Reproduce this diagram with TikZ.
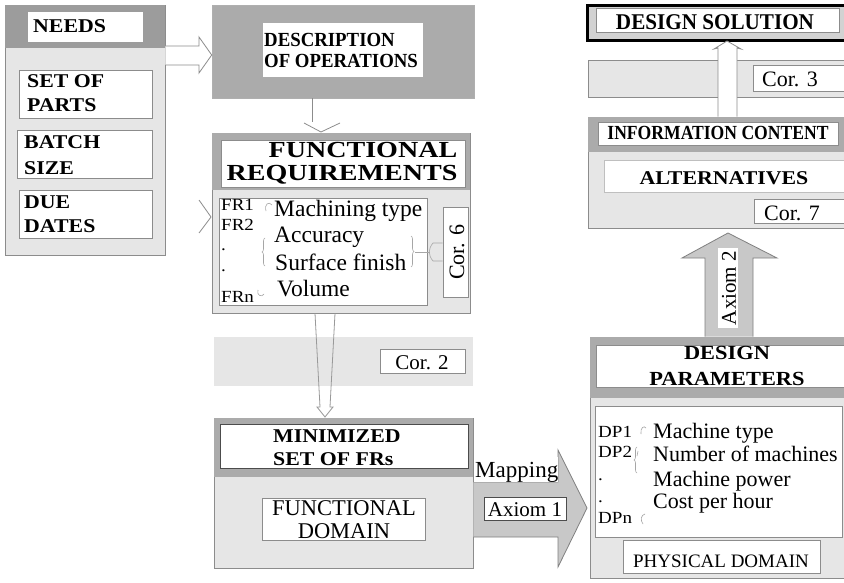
\documentclass[tikz,border=0pt]{standalone}
\usepackage{fontspec}
\setmainfont{Liberation Serif}
\newfontfamily\fnA[FakeStretch=1.12]{Liberation Serif}
\newfontfamily\fnB[FakeStretch=0.94]{Liberation Serif}
\newfontfamily\fnC[FakeStretch=1.22]{Liberation Serif}
\newfontfamily\fnD[FakeStretch=0.88]{Liberation Serif}
\newfontfamily\fnE[FakeStretch=1.12]{Liberation Serif}
\usetikzlibrary{fit,decorations.pathreplacing}
\definecolor{hdr}{HTML}{ABABAB}
\definecolor{hdrdark}{HTML}{9C9C9C}
\definecolor{lite}{HTML}{E6E6E6}
\definecolor{edge}{HTML}{8C8C8C}
\definecolor{arrfill}{HTML}{C8C8C8}
\newcommand\fsz[2]{\fontsize{#1pt}{#2pt}\selectfont}
\tikzset{
  panel/.style={inner sep=0pt, fill=lite, draw=edge, line width=0.8pt},
  band/.style={inner sep=0pt, fill=hdr},
  wbox/.style={inner sep=0pt, fill=white, draw=edge, line width=0.8pt},
  txt/.style={inner sep=0pt, anchor=base west},
  ctxt/.style={inner sep=0pt, anchor=base},
  bA/.style={font=\fnA\bfseries\fsz{19.5}{22}},
  lab/.style={font=\fnA\fsz{17}{19}},
  hollow/.style={draw=edge, line width=0.8pt, line join=miter},
  bigarrow/.style={fill=arrfill, draw=gray, line width=0.8pt},
  curl/.style={draw=gray!70, line width=0.6pt},
}
\begin{document}
\begin{tikzpicture}[x=1pt,y=-1pt]
\path[use as bounding box, fill=white] (0,0) rectangle (844,583);
\clip (0,0) rectangle (844,583);

% ---------- NEEDS ----------
\node[panel, fit={(5,5)(165,255)}] (needs) {};
\node[band, fill=hdrdark, fit={(5.4,5.4)(164.6,48)}] (needshdr) {};
\node[wbox, draw=none, fit={(28,12)(143,42)}] (needsbox) {};
\node[txt,bA] (needst) at (33,33) {NEEDS};
\node[wbox, fit={(19,70)(152,118)}] (parts) {};
\node[txt,bA] (parts1) at (27,88) {SET OF};
\node[txt,bA] (parts2) at (27,112) {PARTS};
\node[wbox, fit={(17,130)(152,178)}] (batch) {};
\node[txt,bA] (batch1) at (24,149) {BATCH};
\node[txt,bA] (batch2) at (24,175) {SIZE};
\node[wbox, fit={(19,190)(152,238)}] (due) {};
\node[txt,bA] (due1) at (24,208) {DUE};
\node[txt,bA] (due2) at (24,233) {DATES};

% ---------- DESCRIPTION ----------
\node[band, draw=edge!70, line width=0.6pt, fit={(212,5)(474,98)}] (desc) {};
\node[wbox, draw=none, fit={(263,23)(423,77)}] (descbox) {};
\node[txt, font=\fnB\bfseries\fsz{20}{22}] (desc1) at (264,47) {DESCRIPTION};
\node[txt, font=\fnB\bfseries\fsz{20}{22}] (desc2) at (264,68) {OF OPERATIONS};

% ---------- FUNCTIONAL REQUIREMENTS ----------
\node[panel, fit={(212,133)(470,313)}] (fr) {};
\node[band, fit={(212.4,133.4)(469.6,190)}] (frhdr) {};
\node[wbox, fit={(221,140)(465,187)}] (frbox) {};
\node[ctxt, font=\fnC\bfseries\fsz{23}{25}] (frt1) at (363,158) {FUNCTIONAL};
\node[ctxt, font=\fnC\bfseries\fsz{23}{25}] (frt2) at (342,181) {REQUIREMENTS};
\node[wbox, fit={(219,198)(427,305)}] (frlist) {};
\node[wbox, fit={(443,207)(468,297)}] (cor6) {};
\node[rotate=90, inner sep=0pt, font=\fsz{22}{24}] (cor6t) at (457,252) {Cor. 6};
\node[txt,lab] (fra) at (221,211) {FR1};
\node[txt,lab] (frb) at (221,230) {FR2};
\node[txt,lab] (frc) at (221,250) {.};
\node[txt,lab] (frd) at (221,271) {.};
\node[txt,lab] (fre) at (221,302) {FRn};
\node[txt,font=\fsz{23.5}{25}] (m1) at (274,216) {Machining type};
\node[txt,font=\fsz{23.5}{25}] (m2) at (274,243) {Accuracy};
\node[txt,font=\fsz{23.5}{25}] (m3) at (275,270) {Surface finish};
\node[txt,font=\fsz{23.5}{25}] (m4) at (277,296) {Volume};
\draw[curl] (266,211) .. controls (264,204) and (269,201) .. (272,205);
\draw[curl, decorate, decoration={brace, amplitude=3pt}] (265,266) -- (265,238);
\draw[curl, decorate, decoration={brace, amplitude=3pt}] (411,236) -- (411,267);
\draw[curl] (258,290) .. controls (256,295) and (262,298) .. (264,294);
\draw[curl] (cor6.west |- 0,243) -- (433,243) .. controls (428,249) and (428,255) .. (433,261) -- (cor6.west |- 0,261);
\draw[curl] (415,252) -- (430,252);
\draw[hollow] (199,200) -- (211,217) -- (199,233);

% ---------- Cor. 2 ----------
\node[panel, draw=none, fit={(214,337)(473,386)}] (cor2band) {};
\node[wbox, fit={(380,349)(465,373)}] (cor2) {};
\node[ctxt, font=\fsz{21}{23}] (cor2t) at (422,369) {Cor. 2};

% ---------- MINIMIZED ----------
\node[panel, fit={(214,418)(473,568)}] (minset) {};
\node[band, fit={(214.4,418.4)(472.6,477)}] (minhdr) {};
\node[wbox, draw=gray!60!black, fit={(220,424)(468,468)}] (minbox) {};
\node[txt,bA] (min1) at (273,442) {MINIMIZED};
\node[txt,bA] (min2) at (273,465) {SET OF FRs};
\node[wbox, fit={(262,498)(425,540)}] (fdom) {};
\node[ctxt, font=\fsz{22.5}{24}] (fdom1) at (344,515) {FUNCTIONAL};
\node[ctxt, font=\fsz{22.5}{24}] (fdom2) at (344,538) {DOMAIN};

% ---------- DESIGN PARAMETERS ----------
\node[panel, fit={(590,337)(846,578)}] (dp) {};
\node[band, fit={(590.4,337.4)(846,398)}] (dphdr) {};
\node[wbox, fit={(596,345)(846,387)}] (dpbox) {};
\node[ctxt, font=\fnE\bfseries\fsz{20}{22}] (dpt1) at (727,359) {DESIGN};
\node[ctxt, font=\fnE\bfseries\fsz{20}{22}] (dpt2) at (727,385) {PARAMETERS};
\node[wbox, fit={(595,406)(842,537)}] (dplist) {};
\node[txt,lab] (dpa) at (598,437) {DP1};
\node[txt,lab] (dpb) at (598,457) {DP2};
\node[txt,lab] (dpc) at (598,480) {.};
\node[txt,lab] (dpd) at (598,502) {.};
\node[txt,lab] (dpe) at (598,523) {DPn};
\node[txt,font=\fsz{22}{24}] (n1) at (653,438) {Machine type};
\node[txt,font=\fsz{22}{24}] (n2) at (653,461) {Number of machines};
\node[txt,font=\fsz{22}{24}] (n3) at (653,486) {Machine power};
\node[txt,font=\fsz{22}{24}] (n4) at (653,508) {Cost per hour};
\draw[curl] (641,434) .. controls (640,428) and (644,425) .. (646,428);
\draw[curl] (637,456) -- (638,451);
\draw[curl, decorate, decoration={brace, amplitude=3pt}] (637,473) -- (637,447);
\draw[curl] (643,524) .. controls (640,520) and (641,515) .. (645,514);
\node[wbox, fit={(623,540)(820,573)}] (phys) {};
\node[ctxt, font=\fsz{19}{21}] (physt) at (721,567) {PHYSICAL DOMAIN};

% ---------- INFORMATION CONTENT / ALTERNATIVES ----------
\node[panel, fit={(588,117)(846,228)}] (info) {};
\node[band, fit={(588.4,117.4)(846,152)}] (infohdr) {};
\node[wbox, fit={(598,122)(838,145)}] (infobox) {};
\node[ctxt, font=\fnD\bfseries\fsz{20}{22}] (infot) at (718,140) {INFORMATION CONTENT};
\node[wbox, draw=gray!50, fit={(604,160)(846,192)}] (alt) {};
\node[ctxt,bA] (altt) at (724,185) {ALTERNATIVES};
\node[wbox, fit={(754,199)(846,223)}] (cor7) {};
\node[ctxt, font=\fsz{22}{24}] (cor7t) at (792,221) {Cor. 7};

% ---------- Cor. 3 ----------
\node[panel, fit={(588,60)(846,97)}] (cor3band) {};
\node[wbox, fit={(753,65)(846,91)}] (cor3) {};
\node[ctxt, font=\fsz{22}{24}] (cor3t) at (790,87) {Cor. 3};

% ---------- DESIGN SOLUTION ----------
\node[inner sep=0pt, fill=gray!35, draw=black, line width=3pt, fit={(587.5,5.5)(850,40.5)}] (sol) {};
\node[wbox, fit={(596,8)(839,32)}] (solbox) {};
\node[ctxt, font=\fnB\bfseries\fsz{22.5}{24}] (solt) at (715,30) {DESIGN SOLUTION};

% ---------- connectors ----------
\draw[hollow, fill=white] (needs.east |- 0,46) -- (199,46) -- (199,37) -- (desc.west |- 0,55) -- (199,73) -- (199,65) -- (needs.east |- 0,65);
\draw[hollow] (desc.south -| 312,0) -- (312,122);
\draw[hollow] (304,123) -- (321,132) -- (340,123);
\draw[hollow, draw=gray!80] (fr.south -| 315,0) -- (320,407) -- (317,407) -- (325,417) -- (333,407) -- (330,407) -- (fr.south -| 335,0);
\filldraw[bigarrow] (minset.east |- 0,482) -- (558,482) -- (558,450) -- (587,508) -- (558,567) -- (558,537) -- (minset.east |- 0,537);
\node[inner sep=0pt, fill=white, fit={(473.5,457)(558,482)}] (mapbg) {};
\node[txt, font=\fsz{23}{25}] (mapt) at (475,477) {Mapping};
\node[wbox, draw=gray!60!black, fit={(484,497)(566,520)}] (ax1) {};
\node[ctxt, font=\fsz{21}{23}] (ax1t) at (525,516) {Axiom 1};
\filldraw[bigarrow] (dp.north -| 705,0) -- (705,258) -- (682,258) -- (728,233) -- (777,258) -- (753,258) -- (dp.north -| 753,0);
\node[inner sep=0pt, fill=white, fit={(718,248)(738,328)}] (ax2) {};
\node[rotate=90, inner sep=0pt, font=\fsz{21}{23}] (ax2t) at (729,288) {Axiom 2};
\draw[hollow, fill=white] (info.north -| 718,0) -- (718,48) -- (714,49) -- (727,41) -- (741,49) -- (737,48) -- (info.north -| 737,0);
\end{tikzpicture}
\end{document}
